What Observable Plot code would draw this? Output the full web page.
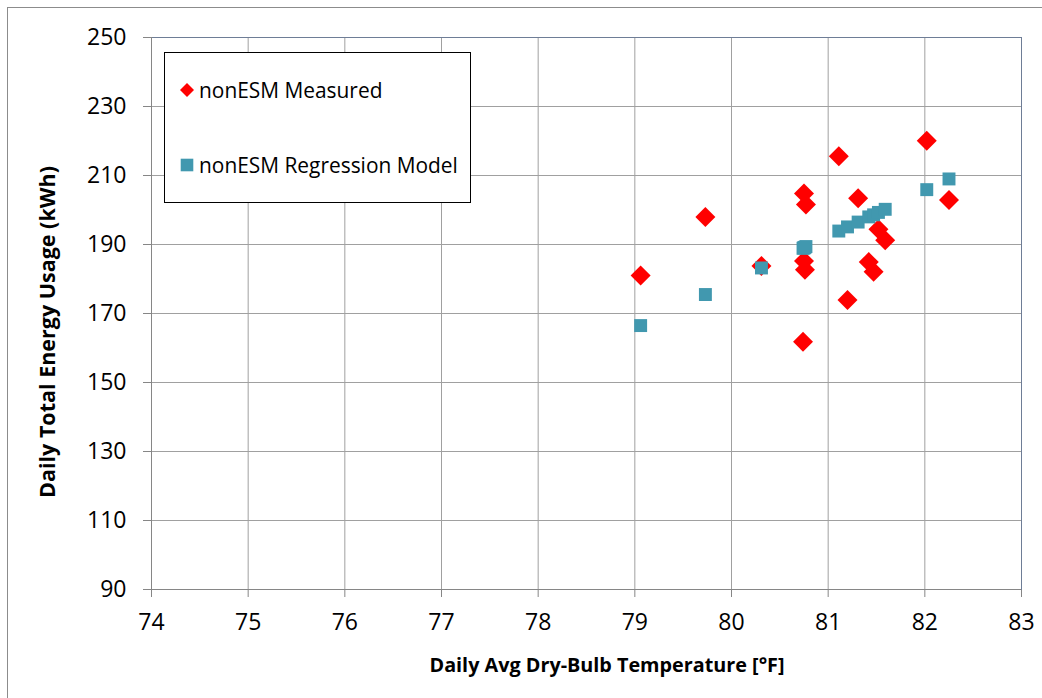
<!DOCTYPE html>
<html>
<head>
<meta charset="utf-8">
<script src="https://cdn.jsdelivr.net/npm/d3@7"></script>
<script src="https://cdn.jsdelivr.net/npm/@observablehq/plot@0.6"></script>
<style>
  html, body { margin: 0; padding: 0; background: #fff; }
  #wrap { position: relative; width: 1042px; height: 698px; overflow: hidden; font-family: "Open Sans", sans-serif; }
  #outer { position: absolute; left: 7px; top: 7px; width: 1100px; height: 800px; border: 1px solid #8c8c8c; box-sizing: border-box; }
  #chart { position: absolute; left: 0; top: 0; }
  #chart svg [aria-label^="x-axis"] line, #chart svg [aria-label^="x-axis"] path,
  #chart svg [aria-label^="y-axis"] line, #chart svg [aria-label^="y-axis"] path { stroke: #868686; }
  .title { position: absolute; font-weight: bold; color: #000; white-space: nowrap; }
  #ytitle { left: 46px; top: 332px; font-size: 21.5px; transform: translate(-50%, -50%) rotate(-90deg); }
  #xtitle { left: 607px; top: 664px; font-size: 19.8px; transform: translate(-50%, -50%); }
  #legend { position: absolute; left: 164px; top: 52px; width: 307px; height: 151px; border: 1px solid #000; background: #fff; box-sizing: border-box; }
  .item { position: absolute; left: 0; display: flex; align-items: center; font-size: 20.9px; color: #000; white-space: nowrap; }
  .item svg { margin-left: 14px; margin-right: 4px; }
</style>
</head>
<body>
<div id="wrap">
  <div id="outer"></div>
  <div id="chart"></div>
  <div id="legend"></div>
  <div class="title" id="ytitle">Daily Total Energy Usage (kWh)</div>
  <div class="title" id="xtitle">Daily Avg Dry-Bulb Temperature [°F]</div>
</div>
<script>
// Data
const seriesNames = ["nonESM Measured", "nonESM Regression Model"];
const seriesColors = ["#ff0000", "#4198af"];

const measuredTemp = [79.06, 79.73, 80.31, 80.75, 80.77, 80.75, 80.76, 80.74, 81.11, 81.31, 81.20, 81.42, 81.47, 81.52, 81.59, 82.02, 82.25];
const measuredEnergy = [181.0, 198.0, 183.8, 204.8, 201.6, 185.2, 182.7, 161.8, 215.6, 203.4, 173.9, 184.9, 182.1, 194.4, 191.2, 220.1, 202.9];

const modelTemp = [79.06, 79.73, 80.31, 80.74, 80.75, 80.75, 80.76, 80.77, 81.11, 81.20, 81.31, 81.42, 81.47, 81.52, 81.59, 82.02, 82.25];
const modelEnergy = [166.5, 175.5, 183.2, 188.9, 189.0, 189.1, 189.2, 189.4, 193.9, 195.1, 196.5, 198.0, 198.6, 199.3, 200.2, 205.9, 209.0];

const xTicks = [74, 75, 76, 77, 78, 79, 80, 81, 82, 83];
const yTicks = [90, 110, 130, 150, 170, 190, 210, 230, 250];

const measured = measuredTemp.map((t, i) => ({t, e: measuredEnergy[i]}));
const model = modelTemp.map((t, i) => ({t, e: modelEnergy[i]}));

const chart = Plot.plot({
  width: 1042,
  height: 698,
  marginLeft: 151,
  marginRight: 21,
  marginTop: 37,
  marginBottom: 109,
  style: { fontFamily: "Open Sans, sans-serif", fontSize: "23px", background: "transparent", color: "#000", overflow: "visible" },
  x: { domain: [74, 83], ticks: xTicks, tickSize: 8, tickPadding: 16, label: null, tickFormat: d => String(d) },
  y: { domain: [90, 250], ticks: yTicks, tickSize: 8, tickPadding: 17, label: null, tickFormat: d => String(d) },
  marks: [
    Plot.ruleX(xTicks, { stroke: "#a0a0a0", strokeWidth: 1 }),
    Plot.ruleY(yTicks, { stroke: "#a0a0a0", strokeWidth: 1 }),
    Plot.frame({ stroke: "#6e7d96", strokeWidth: 1 }),
    Plot.ruleX([74], { stroke: "#868686", strokeWidth: 1 }),
    Plot.ruleY([90], { stroke: "#868686", strokeWidth: 1 }),
    Plot.dot(measured, { x: "t", y: "e", symbol: "diamond2", r: 9, fill: seriesColors[0], stroke: "none" }),
    Plot.dot(model, { x: "t", y: "e", symbol: "square", r: 7.3, fill: seriesColors[1], stroke: "none" })
  ]
});
document.getElementById("chart").appendChild(chart);

// Legend
const legend = document.getElementById("legend");
const markers = [
  '<svg width="16" height="16" viewBox="-8 -8 16 16"><path d="M0,-7L7,0L0,7L-7,0Z" fill="' + seriesColors[0] + '"/></svg>',
  '<svg width="16" height="16" viewBox="-8 -8 16 16"><rect x="-6.3" y="-6.3" width="12.6" height="12.6" fill="' + seriesColors[1] + '"/></svg>'
];
const itemCenters = [37, 112];
seriesNames.forEach((name, i) => {
  const div = document.createElement("div");
  div.className = "item";
  div.style.top = (itemCenters[i] - 14) + "px";
  div.style.height = "28px";
  div.innerHTML = markers[i] + "<span>" + name + "</span>";
  legend.appendChild(div);
});
</script>
</body>
</html>
